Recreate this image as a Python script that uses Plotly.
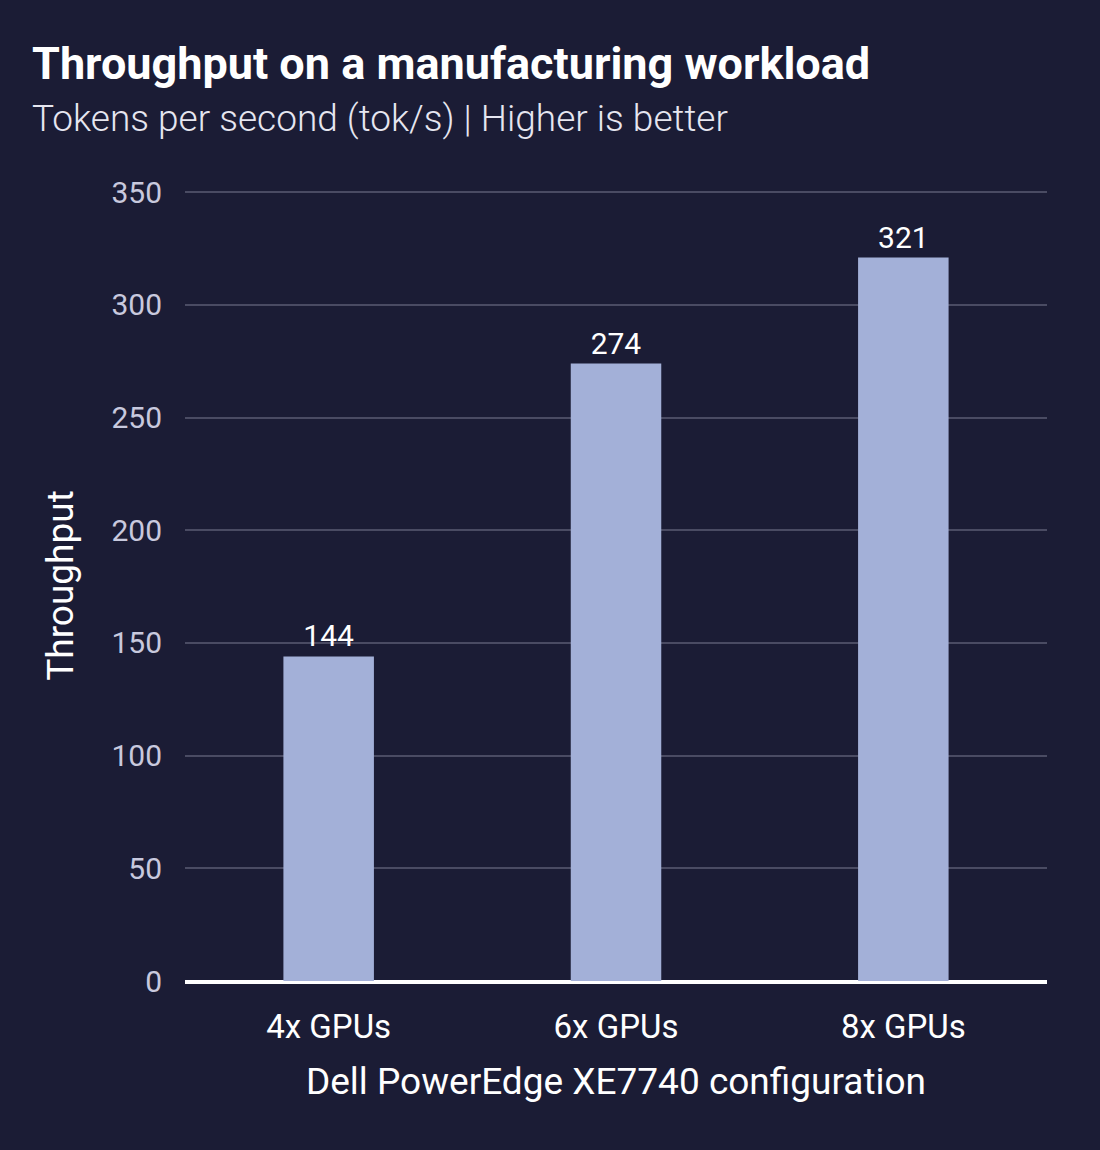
import plotly.graph_objects as go

categories = ["4x GPUs", "6x GPUs", "8x GPUs"]
throughput = [144, 274, 321]
y_ticks = [0, 50, 100, 150, 200, 250, 300, 350]

BG = "#1b1c35"
BAR = "#a3b0d8"
FONT = "Roboto"

T, B, L, R = 190, 169, 185, 53

fig = go.Figure(go.Bar(
    x=categories, y=throughput,
    marker=dict(color=BAR, line=dict(width=0)),
    width=0.315,
    text=[str(v) for v in throughput],
    textposition="outside",
    textfont=dict(color="white", size=30, family=FONT),
    cliponaxis=False,
))

fig.update_layout(
    width=1100, height=1150,
    paper_bgcolor=BG, plot_bgcolor=BG,
    margin=dict(l=L, r=R, t=T, b=B),
    showlegend=False,
    font=dict(family=FONT, color="white"),
    xaxis=dict(
        showgrid=False,
        tickfont=dict(size=33, color="white", family=FONT),
        ticks="", ticklabelstandoff=14,
        title=dict(text="Dell PowerEdge XE7740 configuration",
                   font=dict(size=37, color="white", family=FONT), standoff=24),
        showline=True, linecolor="white", linewidth=3,
    ),
    yaxis=dict(
        range=[0, 351], tickvals=y_ticks,
        showgrid=True, gridcolor="#4a4b63", gridwidth=2,
        zeroline=True, zerolinecolor="white", zerolinewidth=3,
        tickfont=dict(size=30, color="#c8c9de", family=FONT),
        ticks="", ticklabelstandoff=22,
        title=dict(text="Throughput", font=dict(size=37, color="white", family=FONT), standoff=26),
    ),
)

pw = 1100 - L - R
ph = 1150 - T - B
def px(x): return (x - L) / pw
def py(y): return (1150 - B - y) / ph

fig.add_annotation(text="<b>Throughput on a manufacturing workload</b>",
                   x=px(30), y=py(64), xref="paper", yref="paper",
                   xanchor="left", yanchor="middle", showarrow=False,
                   font=dict(size=45, color="white", family=FONT))
fig.add_annotation(text="Tokens per second (tok/s) | Higher is better",
                   x=px(30), y=py(119), xref="paper", yref="paper",
                   xanchor="left", yanchor="middle", showarrow=False,
                   font=dict(size=37, color="#e6e6f0", family=FONT, weight=300))

fig.write_html("out.html")
